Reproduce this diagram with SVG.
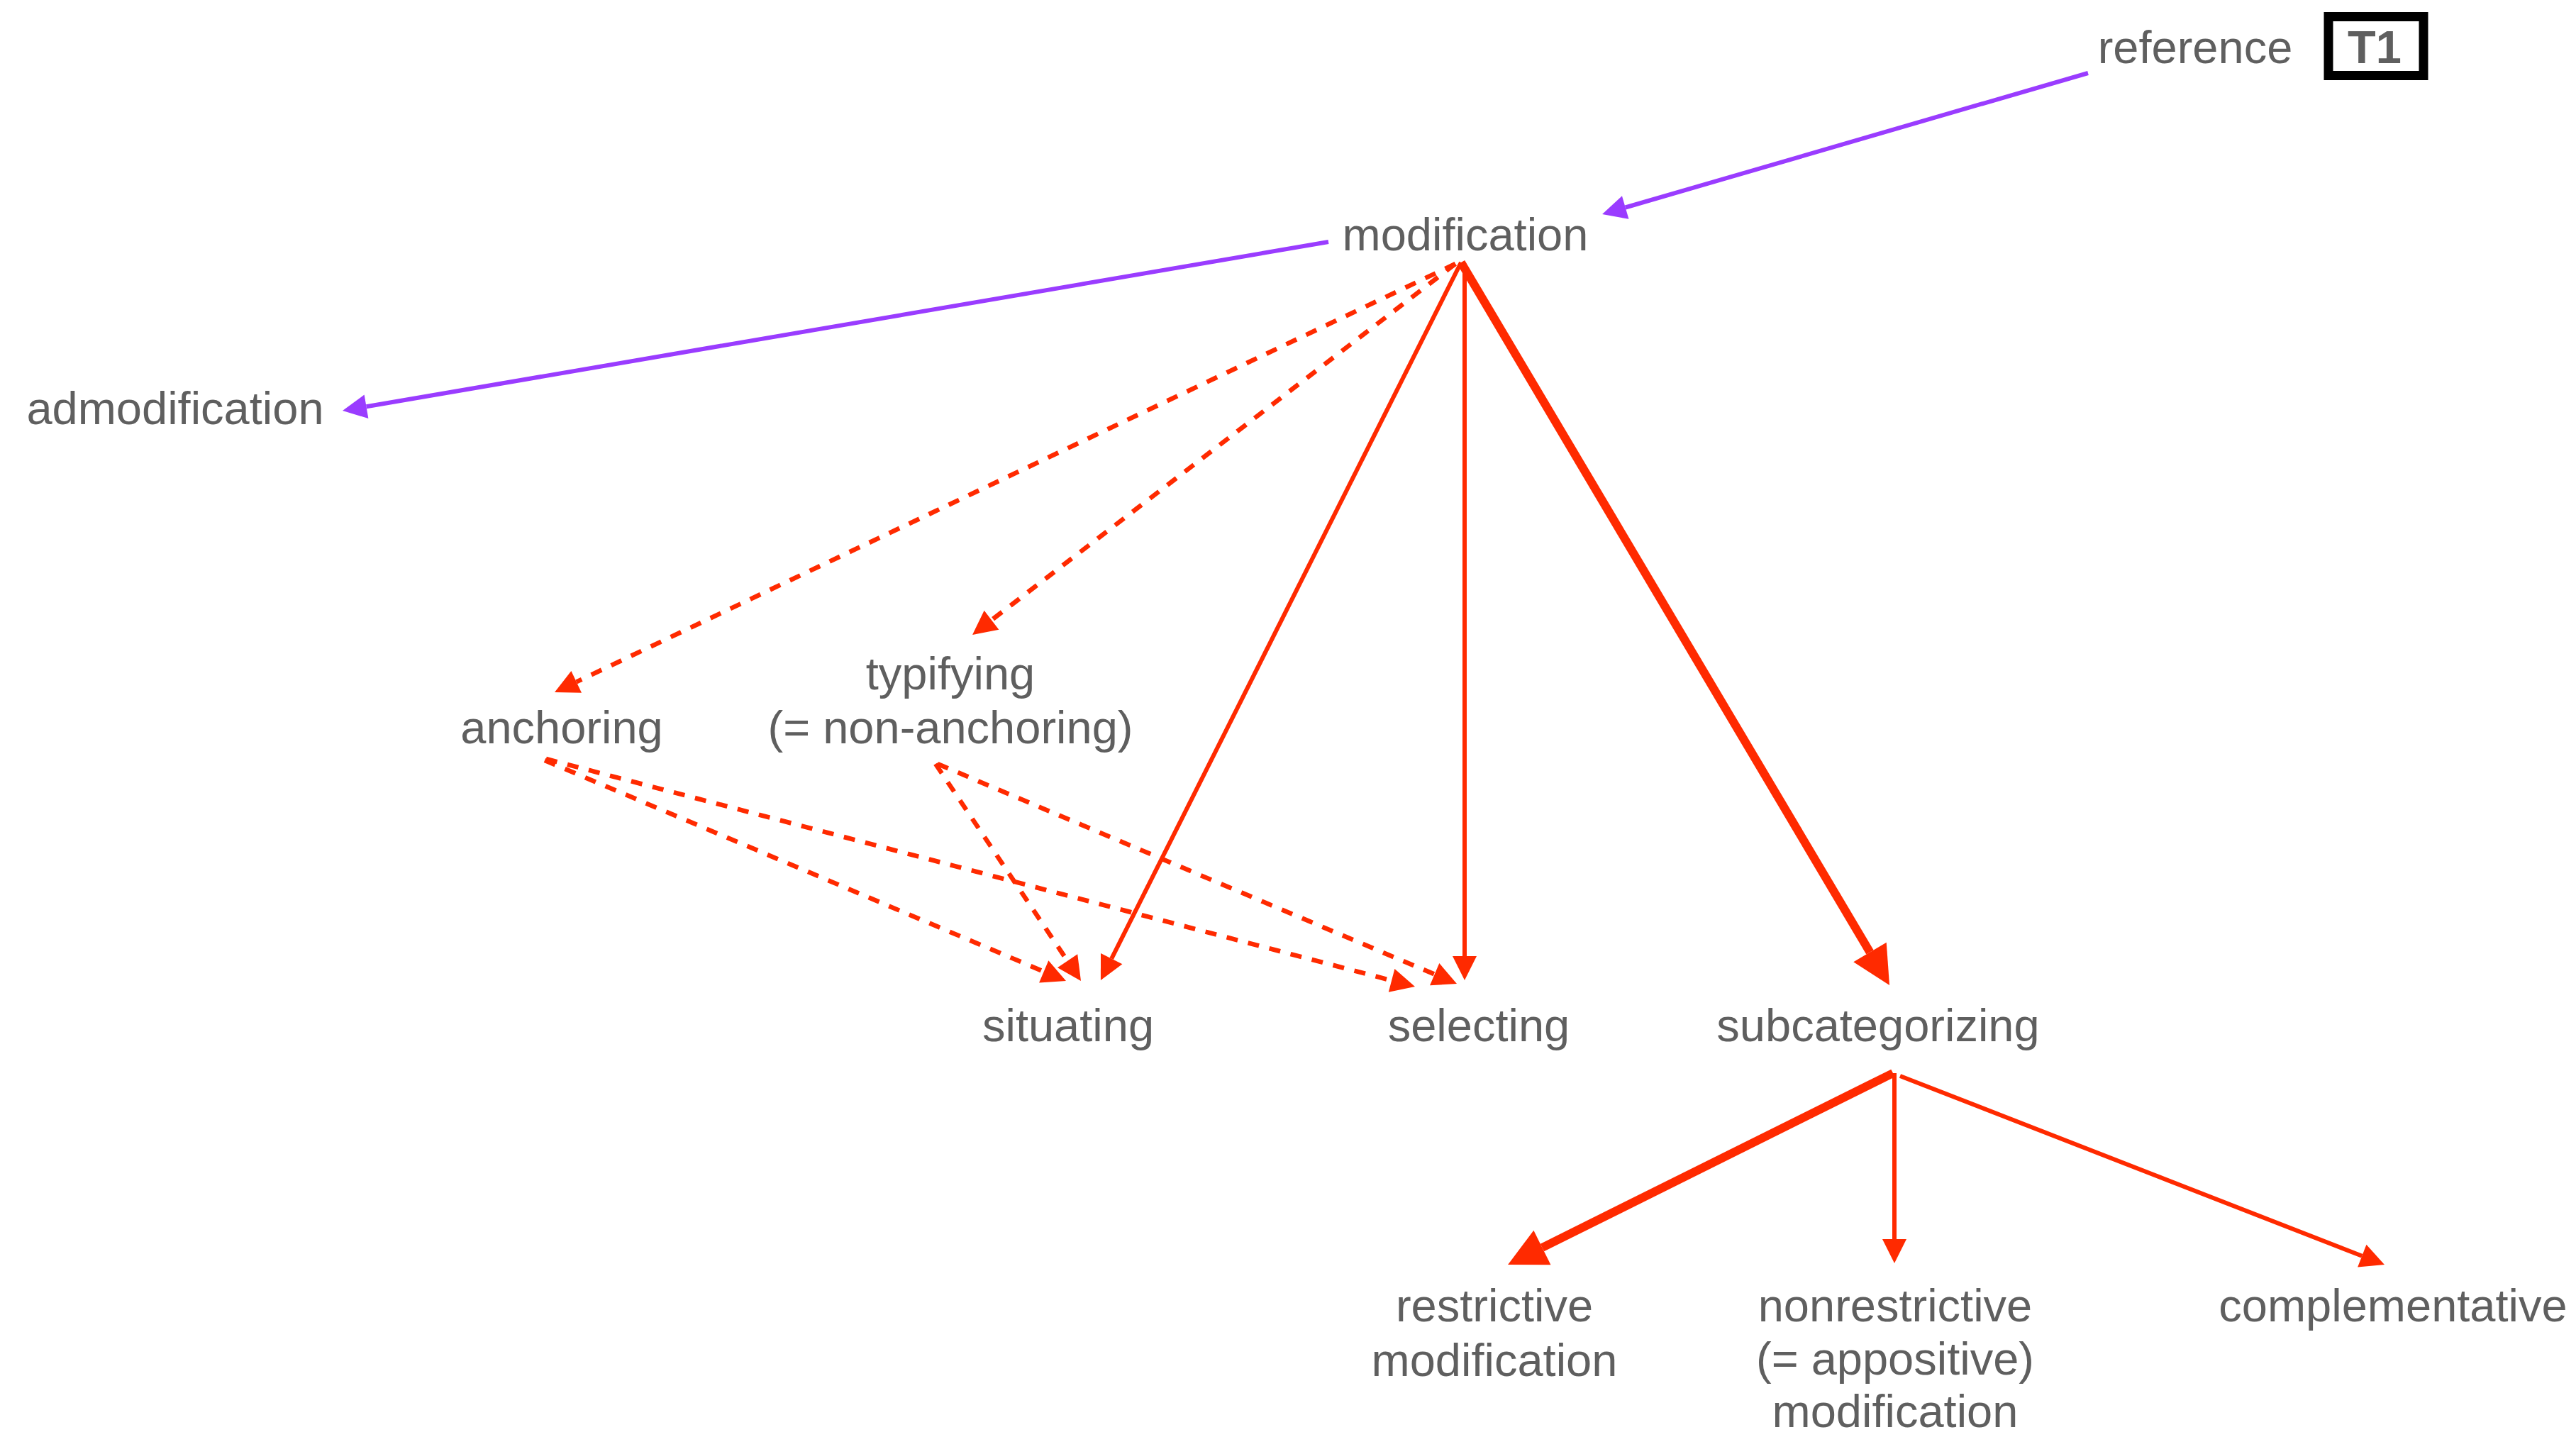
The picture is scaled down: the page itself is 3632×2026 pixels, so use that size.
<svg xmlns="http://www.w3.org/2000/svg" width="3632" height="2026" viewBox="0 0 3632 2026">
<style>
.lbl{font-family:"Liberation Sans",Arial,Helvetica,sans-serif;font-size:65px;fill:#5f5f5f;text-anchor:middle}
.bold{font-weight:bold}
.pur{stroke:#9a3cff;stroke-width:6;fill:none}
.red{stroke:#ff2a00;stroke-width:6;fill:none}
.thick{stroke:#ff2a00;stroke-width:12;fill:none}
.dash{stroke:#ff2a00;stroke-width:6.5;fill:none;stroke-dasharray:16 15}
</style>
<defs>
<marker id="aPur" markerUnits="userSpaceOnUse" viewBox="0 -20 40 40" markerWidth="40" markerHeight="40" refX="0" refY="0" orient="auto" overflow="visible"><path d="M0,-17 L34,0 L0,17 z" fill="#9a3cff"/></marker>
<marker id="aRed" markerUnits="userSpaceOnUse" viewBox="0 -20 40 40" markerWidth="40" markerHeight="40" refX="0" refY="0" orient="auto" overflow="visible"><path d="M0,-17 L34,0 L0,17 z" fill="#ff2a00"/></marker>
<marker id="aBig" markerUnits="userSpaceOnUse" viewBox="0 -30 60 60" markerWidth="60" markerHeight="60" refX="0" refY="0" orient="auto" overflow="visible"><path d="M0,-27 L54,0 L0,27 z" fill="#ff2a00"/></marker>
</defs>
<g id="connectors">
<line class="pur" x1="2944" y1="103" x2="2291.7" y2="292.5" marker-end="url(#aPur)"/>
<line class="pur" x1="1873" y1="341" x2="516.5" y2="573.3" marker-end="url(#aPur)"/>
<line class="dash" x1="2052" y1="372" x2="812.7" y2="961.4" marker-end="url(#aRed)"/>
<line class="dash" x1="2052" y1="372" x2="1398" y2="874.3" marker-end="url(#aRed)"/>
<line class="red" x1="2060" y1="370" x2="1567.2" y2="1351.6" marker-end="url(#aRed)"/>
<line class="red" x1="2065" y1="374" x2="2065" y2="1348" marker-end="url(#aRed)"/>
<line class="thick" x1="2060" y1="370" x2="2636.5" y2="1342.5" marker-end="url(#aBig)"/>
<line class="dash" x1="768" y1="1072" x2="1471.7" y2="1369.8" marker-end="url(#aRed)"/>
<line class="dash" x1="770" y1="1070" x2="1962.1" y2="1382.4" marker-end="url(#aRed)"/>
<line class="dash" x1="1319" y1="1077" x2="1505.1" y2="1354.8" marker-end="url(#aRed)"/>
<line class="dash" x1="1322" y1="1077" x2="2022.7" y2="1373.7" marker-end="url(#aRed)"/>
<line class="thick" x1="2669" y1="1513" x2="2174.4" y2="1759" marker-end="url(#aBig)"/>
<line class="red" x1="2671" y1="1513" x2="2671" y2="1747" marker-end="url(#aRed)"/>
<line class="red" x1="2679" y1="1517" x2="3330.3" y2="1770.7" marker-end="url(#aRed)"/>
</g>
<g id="n-reference"><text class="lbl" x="3095" y="89">reference</text></g>
<g id="n-T1"><rect x="3283" y="23.5" width="134" height="83" fill="none" stroke="#000" stroke-width="13"/><text class="lbl bold" x="3348" y="89">T1</text></g>
<g id="n-modification"><text class="lbl" x="2066" y="353">modification</text></g>
<g id="n-admodification"><text class="lbl" x="247" y="598">admodification</text></g>
<g id="n-anchoring"><text class="lbl" x="792" y="1048">anchoring</text></g>
<g id="n-typifying"><text class="lbl" x="1340" y="972">typifying</text><text class="lbl" x="1340" y="1048">(= non-anchoring)</text></g>
<g id="n-situating"><text class="lbl" x="1506" y="1468">situating</text></g>
<g id="n-selecting"><text class="lbl" x="2085" y="1468">selecting</text></g>
<g id="n-subcategorizing"><text class="lbl" x="2648" y="1468">subcategorizing</text></g>
<g id="n-restrictive"><text class="lbl" x="2107" y="1863">restrictive</text><text class="lbl" x="2107" y="1940">modification</text></g>
<g id="n-nonrestrictive"><text class="lbl" x="2672" y="1863">nonrestrictive</text><text class="lbl" x="2672" y="1938">(= appositive)</text><text class="lbl" x="2672" y="2012">modification</text></g>
<g id="n-complementative"><text class="lbl" x="3374" y="1863">complementative</text></g>
</svg>
